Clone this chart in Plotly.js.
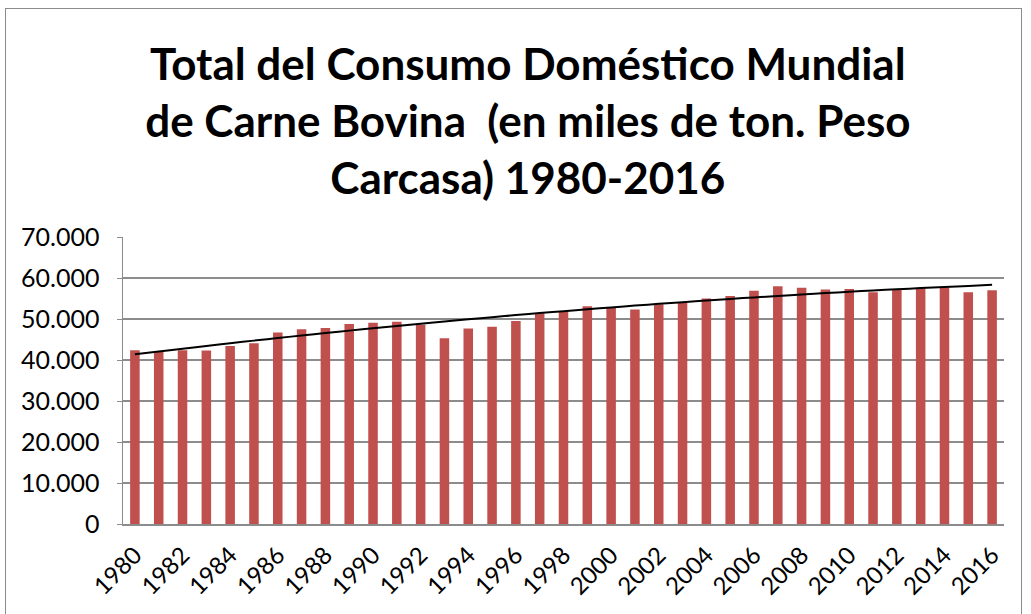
<!DOCTYPE html>
<html>
<head>
<meta charset="utf-8">
<script src="https://cdn.plot.ly/plotly-3.0.1.min.js"></script>
<style>
html,body{margin:0;padding:0;background:#fff;}
#chart{width:1031px;height:614px;}
#frame{position:absolute;left:5px;top:8px;width:1015px;height:640px;border:1.5px solid #8c8c8c;pointer-events:none;}
</style>
</head>
<body>
<div id="chart"></div>
<div id="frame"></div>
<script>
const years = [1980,1981,1982,1983,1984,1985,1986,1987,1988,1989,1990,1991,1992,1993,1994,1995,1996,1997,1998,1999,2000,2001,2002,2003,2004,2005,2006,2007,2008,2009,2010,2011,2012,2013,2014,2015,2016];
const consumo = [42400,42000,42400,42300,43400,44100,46700,47500,47800,48800,49100,49300,48600,45300,47700,48100,49500,51400,51800,53100,52800,52300,53600,54000,55000,55600,56900,58000,57600,57200,57300,56500,57200,57500,57700,56500,57000];
const tickYears = [1980,1982,1984,1986,1988,1990,1992,1994,1996,1998,2000,2002,2004,2006,2008,2010,2012,2014,2016];
const yTickVals = [0,10000,20000,30000,40000,50000,60000,70000];
const yTickText = ["0","10.000","20.000","30.000","40.000","50.000","60.000","70.000"];
const titleText = "Total del Consumo Doméstico Mundial<br>de Carne Bovina  (en miles de ton. Peso<br>Carcasa) 1980-2016";

// Polynomial (order 2) least-squares trendline computed from the data
function polyFit2(xs, ys){
  const n = xs.length; let s=[0,0,0,0,0], t=[0,0,0];
  for(let i=0;i<n;i++){const x=xs[i];let p=1;for(let k=0;k<5;k++){s[k]+=p;if(k<3)t[k]+=p*ys[i];p*=x;}}
  const A=[[s[0],s[1],s[2],t[0]],[s[1],s[2],s[3],t[1]],[s[2],s[3],s[4],t[2]]];
  for(let i=0;i<3;i++){for(let j=i+1;j<3;j++){const f=A[j][i]/A[i][i];for(let k=i;k<4;k++)A[j][k]-=f*A[i][k];}}
  const c=[0,0,0];
  for(let i=2;i>=0;i--){let v=A[i][3];for(let k=i+1;k<3;k++)v-=A[i][k]*c[k];c[i]=v/A[i][i];}
  return c;
}
const idx = years.map((y,i)=>i+1);
const cf = polyFit2(idx, consumo);
const trend = idx.map(x=>cf[0]+cf[1]*x+cf[2]*x*x);

const data = [
  {type:'bar', x:years.map(String), y:consumo, marker:{color:'#C0504D'}, hoverinfo:'x+y'},
  {type:'scatter', mode:'lines', x:years.map(String), y:trend, line:{color:'#000', width:2, shape:'spline'}, hoverinfo:'skip'}
];
const layout = {
  width:1031, height:614,
  margin:{l:123, r:27, t:237, b:90},
  paper_bgcolor:'#fff', plot_bgcolor:'#fff',
  showlegend:false,
  bargap:0.6,
  font:{family:'Lato, "Open Sans", sans-serif', color:'#000'},
  title:{text:titleText, font:{family:'Lato, sans-serif', size:44, color:'#000', weight:'bold'}, x:0.512, xref:'container', xanchor:'center', y:0.87, yref:'container', yanchor:'top'},
  xaxis:{type:'category', tickmode:'array', tickvals:tickYears.map(String), ticktext:tickYears.map(String), tickangle:-45, tickfont:{size:24, family:'Lato, sans-serif'}, ticklabelstandoff:6, showline:true, linecolor:'#8c8c8c', linewidth:1.5, ticks:'', showgrid:false, fixedrange:true},
  yaxis:{range:[0,70000], tickmode:'array', tickvals:yTickVals, ticktext:yTickText, tickfont:{size:25, family:'Lato, sans-serif'}, ticklabelstandoff:12, showline:true, linecolor:'#8c8c8c', linewidth:1.5, ticks:'outside', ticklen:5, tickcolor:'#8c8c8c', showgrid:true, gridcolor:'#8c8c8c', gridwidth:1.5, zeroline:false, fixedrange:true}
};
Plotly.newPlot('chart', data, layout, {displayModeBar:false, staticPlot:true});
</script>
</body>
</html>
